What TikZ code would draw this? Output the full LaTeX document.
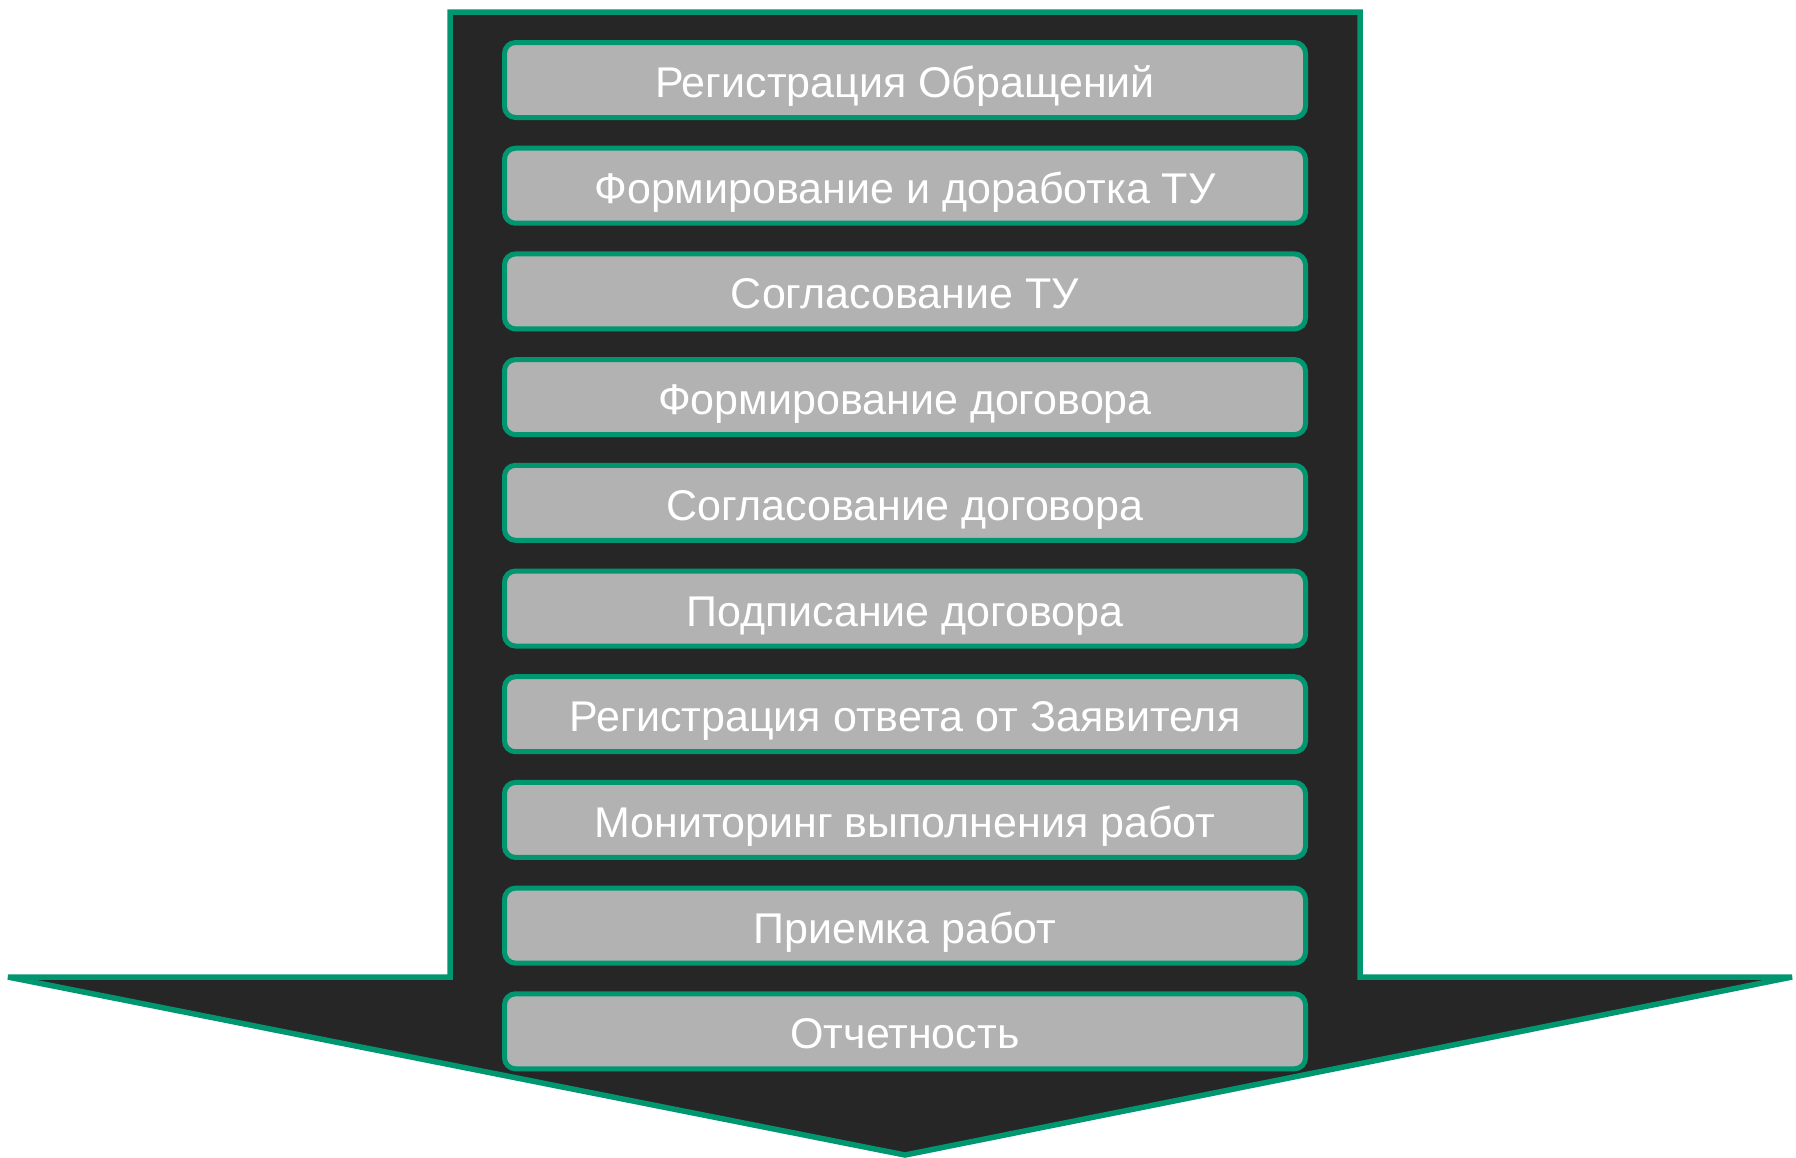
\documentclass[tikz,border=0pt]{standalone}
\usepackage{fontspec}
\setmainfont{Liberation Sans}
\definecolor{grn}{RGB}{0,150,112}
\definecolor{dark}{RGB}{38,38,38}
\definecolor{boxgray}{RGB}{178,178,178}
\tikzset{
  stepbox/.style={draw=grn, line width=5pt, fill=boxgray, rounded corners=11pt,
    minimum width=801pt, minimum height=75pt, inner sep=0pt, text=white,
    text height=35pt, text depth=0pt,
    font=\fontsize{43}{50}\selectfont},
  bigarrow/.style={draw=grn, line width=5.5pt, fill=dark, line join=miter}
}
\begin{document}
\begin{tikzpicture}[x=1pt,y=-1pt]
\useasboundingbox (0,0) rectangle (1796,1157);
\draw[bigarrow] (450,12) -- (1360,12) -- (1360,977) -- (1792,977) -- (905,1155) -- (8,977) -- (450,977) -- cycle;
\foreach \i/\t in {1/Регистрация Обращений,
                   2/Формирование и доработка ТУ,
                   3/Согласование ТУ,
                   4/Формирование договора,
                   5/Согласование договора,
                   6/Подписание договора,
                   7/Регистрация ответа от Заявителя,
                   8/Мониторинг выполнения работ,
                   9/Приемка работ,
                   10/Отчетность}{
  \node[stepbox] (b\i) at (905,{80+105.7*(\i-1)}) {\t};
}
\end{tikzpicture}
\end{document}
